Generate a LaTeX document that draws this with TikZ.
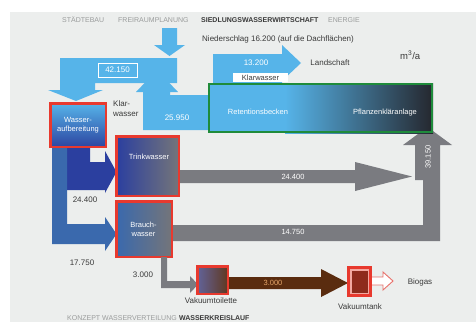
\documentclass[tikz,border=0pt]{standalone}
\usepackage{fontspec}
\setmainfont{Liberation Sans}
\definecolor{bg}{HTML}{ECEEED}
\definecolor{lb}{HTML}{56B4E9}
\definecolor{grn}{HTML}{1F8B3B}
\definecolor{dk}{HTML}{25272E}
\definecolor{midret}{HTML}{3A6E98}
\definecolor{redb}{HTML}{E8392E}
\definecolor{dblue}{HTML}{2B3F9F}
\definecolor{mblue}{HTML}{3A69AD}
\definecolor{gr}{HTML}{7A7B80}
\definecolor{brn}{HTML}{5A2C0F}
\definecolor{txt}{HTML}{3A3A3A}
\definecolor{hdrgray}{HTML}{9A9C9C}
\definecolor{pinkb}{HTML}{F2A8A0}
\definecolor{tankfill}{HTML}{8E2B1C}
\definecolor{biog}{HTML}{E8706A}
\definecolor{tan}{HTML}{E4A468}
\begin{document}
\begin{tikzpicture}[x=1pt,y=-1pt,
  lbl/.style={font=\fontsize{8}{9.5}\selectfont, text=txt, inner sep=0pt},
  wlbl/.style={font=\fontsize{7.5}{9.5}\selectfont, text=white, inner sep=0pt, align=center},
  hdr/.style={font=\fontsize{7}{8}\selectfont, text=hdrgray, inner sep=0pt, anchor=base west},
  hdrb/.style={hdr, font=\fontsize{7}{8}\selectfont\bfseries, text=txt},
  redbox/.style={draw=redb, line width=2.5pt},
  flowlb/.style={fill=lb},
]
\useasboundingbox (0,0) rectangle (476,322);
\fill[white] (0,0) rectangle (476,322);
\fill[bg] (10,12) rectangle (476,322);

% header
\node[hdr] (h1) at (62,22.5) {STÄDTEBAU};
\node[hdr] (h2) at (118,22.5) {FREIRAUMPLANUNG};
\node[hdrb] (h3) at (201,22.5) {SIEDLUNGSWASSERWIRTSCHAFT};
\node[hdr] (h4) at (328,22.5) {ENERGIE};
\node[lbl, anchor=base west] (nied) at (202,41) {Niederschlag 16.200 (auf die Dachflächen)};
\node[lbl, anchor=base west, font=\fontsize{9.5}{11}\selectfont] (unit) at (400,59) {m\textsuperscript{3}/a};

% light blue flows
\fill[flowlb] (162,28) -- (177,28) -- (177,45) -- (185,45) -- (169.5,56) -- (154,45) -- (162,45) -- cycle;
\fill[flowlb] (60,58) -- (177,58) -- (177,83) -- (95,83) -- (95,90) -- (103,90) -- (76,101) -- (48,90) -- (60,90) -- cycle;
\fill[flowlb] (136,92) -- (157,70) -- (178,92) -- (170,92) -- (170,95) -- (208,95) -- (208,130) -- (143,130) -- (143,92) -- cycle;
\fill[flowlb] (213,84) -- (213,54) -- (282,54) -- (282,45) -- (301,63) -- (282,81) -- (282,84) -- cycle;

\draw[white, line width=0.8pt] (98,63) rectangle (137,77);
\node[wlbl, font=\fontsize{8}{9.5}\selectfont] (v42) at (117.5,70) {42.150};
\node[wlbl, font=\fontsize{8}{9.5}\selectfont] (v259) at (177,118) {25.950};
\node[wlbl, font=\fontsize{8}{9.5}\selectfont] (v132) at (256,63) {13.200};
\fill[white] (233,72.5) rectangle (288,82);
\node[lbl, font=\fontsize{7.5}{9}\selectfont] (klw) at (260.5,77.5) {Klarwasser};
\node[lbl] (land) at (330,63) {Landschaft};
\node[lbl, anchor=base west] (klar1) at (113,106) {Klar-};
\node[lbl, anchor=base west] (klar2) at (113,116) {wasser};

% gray flows (drawn before green box)
\fill[gr] (172,225) -- (423,225) -- (423,180) -- (415,180) -- (415,145) -- (403,145) -- (427.5,127) -- (452,145) -- (440,145) -- (440,241) -- (172,241) -- cycle;
\fill[gr] (180,170) -- (355,170) -- (355,162) -- (412,176.5) -- (355,191) -- (355,183) -- (180,183) -- cycle;
\node[wlbl] (v244b) at (293,177) {24.400};
\node[wlbl] (v147) at (293,232) {14.750};
\node[wlbl, rotate=90] (v391) at (428,157) {39.150};

% green box
\fill[lb] (208,83) rectangle (433,133);
\shade[left color=lb, middle color=midret, right color=dk] (285,83) rectangle (433,133);
\draw[grn, line width=2pt] (209,84) rectangle (432,132);
\node[wlbl] (ret) at (258,112) {Retentionsbecken};
\node[wlbl] (pfl) at (385,113) {Pflanzenkläranlage};

% blue flows
\fill[dblue] (67,148) -- (90,148) -- (90,162) -- (105,162) -- (105,151) -- (116.5,172) -- (105,193) -- (105,190) -- (67,190) -- cycle;
\fill[mblue] (52,148) -- (67,148) -- (67,224) -- (105,224) -- (105,217) -- (116.5,234) -- (105,251) -- (105,244) -- (52,244) -- cycle;
\node[lbl] (v244a) at (85,200) {24.400};
\node[lbl] (v177) at (82,263) {17.750};

% boxes
\path[redbox, top color=lb, bottom color=dblue!85!mblue] (50.25,103.25) rectangle (105.75,146.75);
\node[wlbl] (wa) at (78,125) {Wasser-\\aufbereitung};
\path[redbox, left color=dblue, right color=gr!95!black] (116.25,136.25) rectangle (178.75,195.75);
\node[wlbl] (tw) at (149,157) {Trinkwasser};
\path[redbox, left color=mblue, right color=gr!95!black] (116.25,201.25) rectangle (171.75,256.75);
\node[wlbl] (bw) at (143.5,229.5) {Brauch-\\wasser};

% toilet flow
\fill[gr] (161,257) -- (167,257) -- (167,281) -- (190,281) -- (190,276) -- (198,284.5) -- (190,293) -- (190,288) -- (161,288) -- cycle;
\node[lbl] (v3a) at (143,275) {3.000};
\fill[brn] (228,277) -- (321,277) -- (321,269) -- (348,283) -- (321,297) -- (321,289) -- (228,289) -- cycle;
\node[wlbl, text=tan] (v3b) at (273,282.5) {3.000};
\path[redbox, left color=gr!80!blue, right color=brn!85!gray] (197.25,266.25) rectangle (227.75,293.75);
\node[lbl] (vt) at (211,301) {Vakuumtoilette};

% tank
\fill[redb] (347,266) rectangle (372,297);
\fill[pinkb] (350,269) rectangle (369,294);
\fill[tankfill] (351.5,270.5) rectangle (367.5,292.5);
\node[lbl] (vtank) at (360,307) {Vakuumtank};
\draw[biog, fill=white, line width=0.9pt] (372,277) -- (383,277) -- (383,272) -- (393,281) -- (383,290) -- (383,285) -- (372,285);
\node[lbl] (bio) at (420,282) {Biogas};

% footer
\node[hdr] (f1) at (67,320.5) {KONZEPT WASSERVERTEILUNG};
\node[hdrb, anchor=base west] (f2) at (f1.base east) {\ WASSERKREISLAUF};
\end{tikzpicture}
\end{document}
